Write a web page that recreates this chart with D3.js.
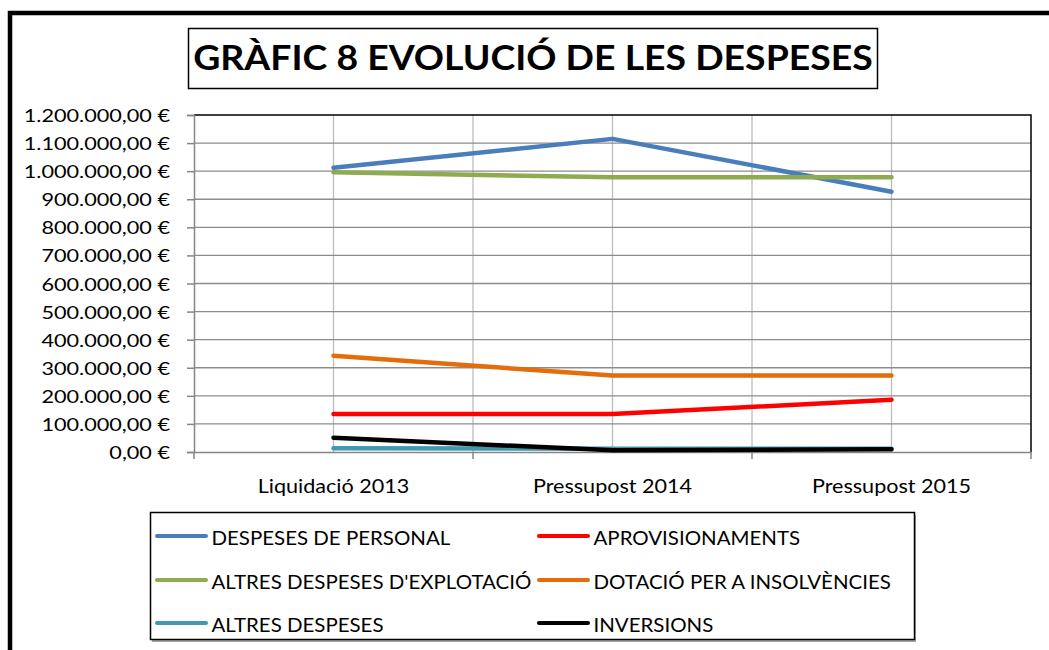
<!DOCTYPE html>
<html>
<head>
<meta charset="utf-8">
<script src="https://cdn.jsdelivr.net/npm/d3@7"></script>
<style>
  html, body { margin: 0; padding: 0; background: #fff; }
  svg { display: block; }
</style>
</head>
<body>
<div id="chart"></div>
<script>
// Dades del gràfic
const categories = ['Liquidació 2013', 'Pressupost 2014', 'Pressupost 2015'];
const personal = [1012000, 1115000, 927000];
const aprovisionaments = [135000, 135000, 186000];
const explotacio = [996000, 978000, 978000];
const insolvencies = [343000, 272000, 272000];
const altresDespeses = [13000, 12000, 12000];
const inversions = [51000, 6000, 10000];
const yTicks = [0, 100000, 200000, 300000, 400000, 500000, 600000, 700000, 800000, 900000, 1000000, 1100000, 1200000];

const series = [
  { name: 'DESPESES DE PERSONAL', values: personal, color: '#4a7ebb' },
  { name: 'APROVISIONAMENTS', values: aprovisionaments, color: '#ff0000' },
  { name: "ALTRES DESPESES D'EXPLOTACIÓ", values: explotacio, color: '#8eab4f' },
  { name: 'DOTACIÓ PER A INSOLVÈNCIES', values: insolvencies, color: '#e46c0a' },
  { name: 'ALTRES DESPESES', values: altresDespeses, color: '#4198af' },
  { name: 'INVERSIONS', values: inversions, color: '#000000' }
];

const W = 1049, H = 650;
const FONT = "Lato, 'Open Sans', sans-serif";

function euro(v) {
  const s = d3.format(',.2f')(v);            // 1,200,000.00
  return s.replace(/,/g, '#').replace('.', ',').replace(/#/g, '.') + ' €';
}

// estira el text horitzontalment (l'original és més ample que alt)
function stretch(sel, k) {
  sel.each(function () {
    const w = this.getComputedTextLength();
    d3.select(this).attr('textLength', w * k).attr('lengthAdjust', 'spacingAndGlyphs');
  });
}

const svg = d3.select('#chart').append('svg')
  .attr('width', W).attr('height', H)
  .attr('viewBox', `0 0 ${W} ${H}`);

// marc exterior
svg.append('path')
  .attr('d', `M10,${H} L10,13 L${W},13`)
  .attr('fill', 'none').attr('stroke', '#000').attr('stroke-width', 4.5);

// títol
svg.append('rect')
  .attr('x', 188.5).attr('y', 28.5).attr('width', 689).attr('height', 60)
  .attr('fill', '#fff').attr('stroke', '#000').attr('stroke-width', 1.5);
svg.append('text')
  .attr('x', 533).attr('y', 69.5)
  .attr('text-anchor', 'middle')
  .attr('font-family', FONT).attr('font-weight', 700).attr('font-size', 34)
  .attr('fill', '#000')
  .text('GRÀFIC 8 EVOLUCIÓ DE LES DESPESES')
  .call(stretch, 1.1);

// àrea del gràfic
const M = { left: 194, top: 115, right: 1031, bottom: 452 };
const x = d3.scalePoint().domain(categories).range([M.left, M.right]).padding(0.5);
const band = d3.scaleBand().domain(categories).range([M.left, M.right]);
const y = d3.scaleLinear().domain([0, 1200000]).range([M.bottom, M.top]);

const g = svg.append('g');

// línies de graella verticals (límits i centres de categoria)
const vLines = categories.map(c => x(c)).concat(categories.slice(1).map(c => band(c)));
g.selectAll('.vgrid').data(vLines).join('line')
  .attr('x1', d => d).attr('x2', d => d)
  .attr('y1', M.top).attr('y2', M.bottom)
  .attr('stroke', '#bdbdbd').attr('stroke-width', 1.3);

// línies de graella horitzontals
g.selectAll('.hgrid').data(yTicks.slice(1, -1)).join('line')
  .attr('x1', M.left).attr('x2', M.right)
  .attr('y1', d => y(d)).attr('y2', d => y(d))
  .attr('stroke', '#8c8c8c').attr('stroke-width', 1.3);

// vora superior i dreta
g.append('path')
  .attr('d', `M${M.left},${M.top} L${M.right},${M.top} L${M.right},${M.bottom}`)
  .attr('fill', 'none').attr('stroke', '#000').attr('stroke-width', 1.5);

// eix Y
const yAxis = g.append('g').attr('transform', `translate(${M.left},0)`)
  .call(d3.axisLeft(y).tickValues(yTicks).tickFormat(euro).tickSize(7).tickPadding(17));
yAxis.select('.domain').attr('stroke', '#868686').attr('stroke-width', 1.5);
yAxis.selectAll('.tick line').attr('stroke', '#868686').attr('stroke-width', 1.5);
yAxis.selectAll('.tick text')
  .attr('font-family', FONT).attr('font-size', 16.3).attr('fill', '#000')
  .attr('dy', '0.4em')
  .call(stretch, 1.33);

// eix X
const xAxis = g.append('g').attr('transform', `translate(0,${M.bottom})`)
  .call(d3.axisBottom(band).tickSize(0).tickFormat(''));
xAxis.select('.domain').attr('stroke', '#868686').attr('stroke-width', 1.5);
g.selectAll('.xtick').data(categories.map(c => band(c)).concat([M.right])).join('line')
  .attr('x1', d => d).attr('x2', d => d)
  .attr('y1', M.bottom).attr('y2', M.bottom + 7)
  .attr('stroke', '#868686').attr('stroke-width', 1.5);
g.selectAll('.xlabel').data(categories).join('text')
  .attr('x', d => x(d)).attr('y', 492.5)
  .attr('text-anchor', 'middle')
  .attr('font-family', FONT).attr('font-size', 18.6).attr('fill', '#000')
  .text(d => d)
  .call(stretch, 1.16);

// línies de sèries
const line = d3.line().x((d, i) => x(categories[i])).y(d => y(d));
g.selectAll('.serie').data(series).join('path')
  .attr('d', d => line(d.values))
  .attr('fill', 'none')
  .attr('stroke', d => d.color)
  .attr('stroke-width', 4.5)
  .attr('stroke-linecap', 'round')
  .attr('stroke-linejoin', 'round');

// llegenda
const lg = svg.append('g');
lg.append('rect')
  .attr('x', 152).attr('y', 515).attr('width', 764).attr('height', 127)
  .attr('fill', '#a6a6a6');
lg.append('rect')
  .attr('x', 150.5).attr('y', 512.5).attr('width', 764).attr('height', 127)
  .attr('fill', '#fff').attr('stroke', '#000').attr('stroke-width', 1.5);

const colX = [156, 538];
const rowY = [536, 580, 623];
const items = lg.selectAll('.item').data(series).join('g')
  .attr('transform', (d, i) => `translate(${colX[i % 2]},${rowY[Math.floor(i / 2)]})`);
items.append('line')
  .attr('x1', 1).attr('x2', 50)
  .attr('stroke', d => d.color).attr('stroke-width', 4)
  .attr('stroke-linecap', 'round');
items.append('text')
  .attr('x', 55.5).attr('y', 9)
  .attr('font-family', FONT).attr('font-size', 18.6).attr('fill', '#000')
  .text(d => d.name)
  .call(stretch, 1.1);
</script>
</body>
</html>
